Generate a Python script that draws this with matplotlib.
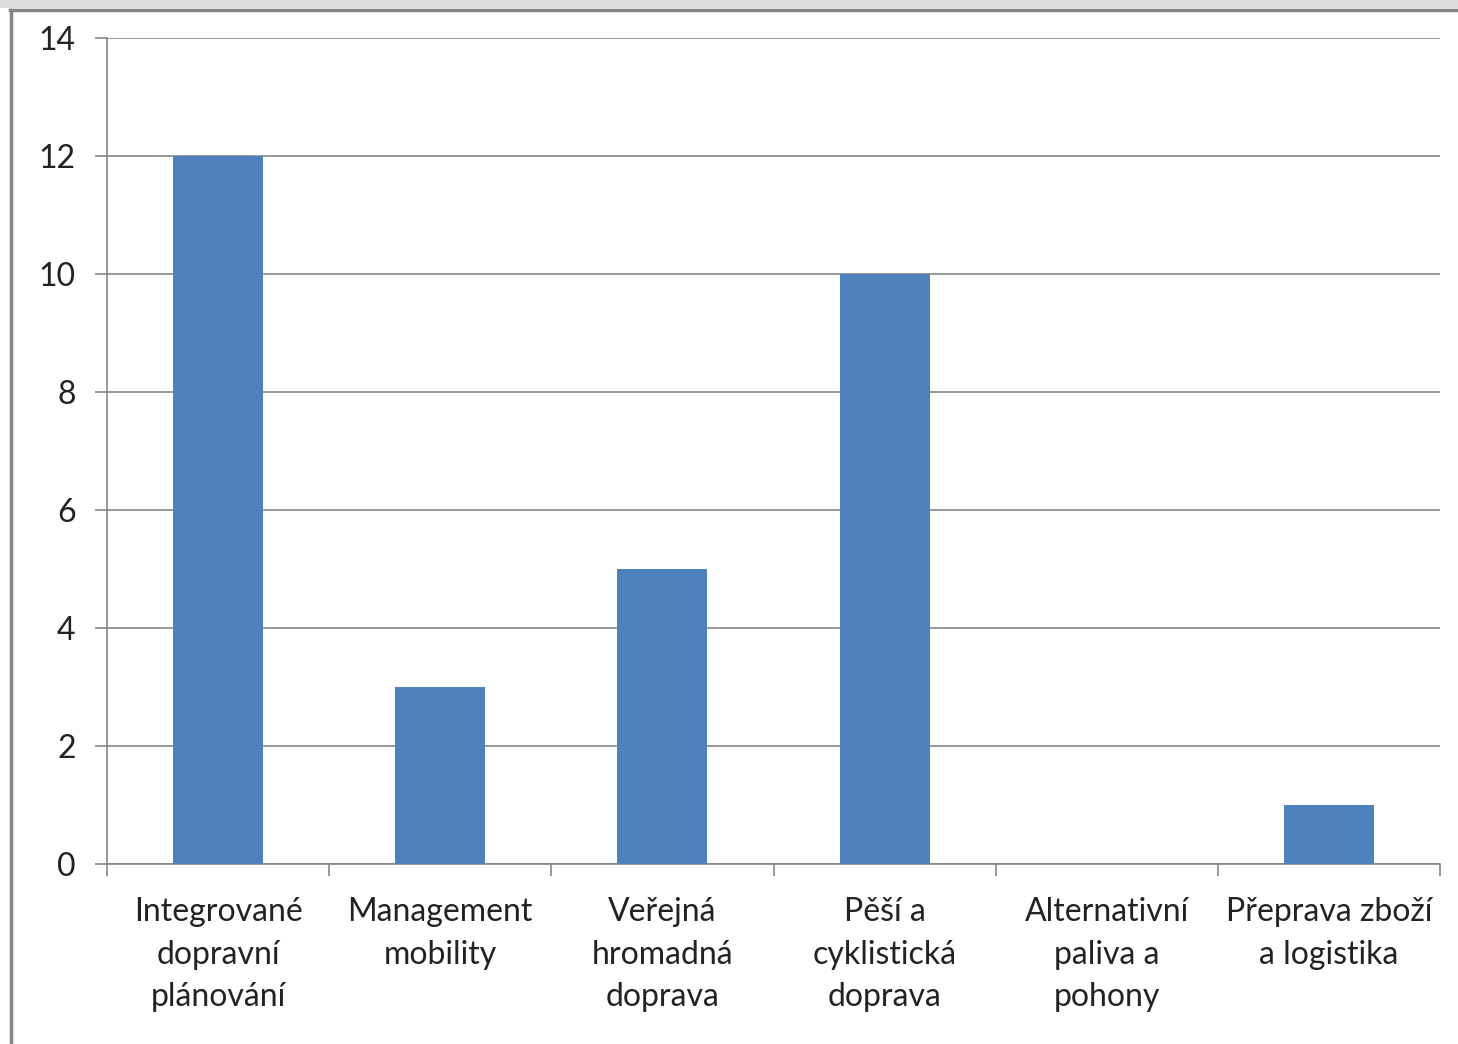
import matplotlib.pyplot as plt
import numpy as np
from matplotlib.lines import Line2D
from matplotlib.patches import Rectangle

categories = ["Integrované\ndopravní\nplánování", "Management\nmobility",
              "Veřejná\nhromadná\ndoprava", "Pěší a\ncyklistická\ndoprava",
              "Alternativní\npaliva a\npohony", "Přeprava zboží\na logistika"]
values = [12, 3, 5, 10, 0, 1]
yticks = [0, 2, 4, 6, 8, 10, 12, 14]

plt.rcParams['font.family'] = ['Lato', 'DejaVu Sans']

fig = plt.figure(figsize=(14.58, 10.44), dpi=100)
ax = fig.add_axes([107 / 1458, 1 - 864 / 1044, (1440 - 107) / 1458, (864 - 38) / 1044])

ind = np.arange(len(categories))
ax.bar(ind, values, 0.405, color="#4F81BD", zorder=3)

ax.set_xlim(-0.5, len(categories) - 0.5)
ax.set_ylim(0, 14)
ax.set_yticks(yticks)
ax.set_yticklabels([str(t) for t in yticks], fontsize=23, color="#222222")
ax.yaxis.grid(True, color="#868686", linewidth=1.2, zorder=0)

ax.set_xticks(ind)
ax.set_xticklabels(categories, fontsize=23, color="#222222", linespacing=1.52)
ax.set_xticks(np.arange(-0.5, len(categories)), minor=True)
ax.tick_params(axis='x', which='major', length=0, pad=24)
ax.tick_params(axis='x', which='minor', length=8.6, color="#868686", width=1.2)
ax.tick_params(axis='y', length=8.6, color="#868686", width=1.2, pad=14)

for s in ["top", "right"]:
    ax.spines[s].set_visible(False)
ax.spines["left"].set_color("#868686")
ax.spines["bottom"].set_color("#868686")
ax.spines["left"].set_linewidth(1.2)
ax.spines["bottom"].set_linewidth(1.2)

# frame around the chart area
fig.patches.append(Rectangle((0, 1 - 8 / 1044), 1, 8 / 1044, transform=fig.transFigure,
                             facecolor="#dcdcdc", edgecolor="none"))
fig.lines.append(Line2D([10 / 1458, 1], [1 - 9.5 / 1044, 1 - 9.5 / 1044],
                        transform=fig.transFigure, color="#858585", linewidth=2.5))
fig.lines.append(Line2D([11 / 1458, 11 / 1458], [0, 1 - 9.5 / 1044],
                        transform=fig.transFigure, color="#858585", linewidth=2.5))

fig.savefig("out.png", dpi=100)
